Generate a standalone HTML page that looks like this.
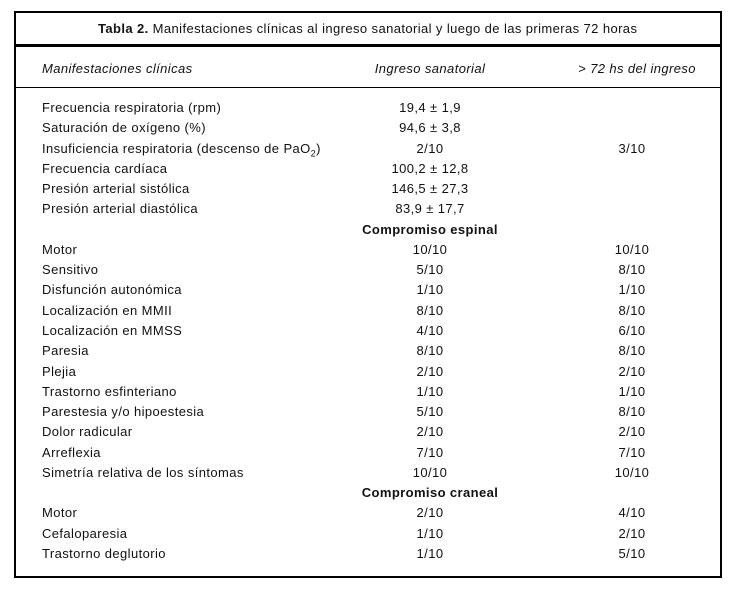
<!DOCTYPE html>
<html><head><meta charset="utf-8"><style>
body{margin:0;width:738px;height:590px;background:#fff;font-family:"Liberation Sans",Arial,sans-serif;font-size:13px;color:#111;position:relative;overflow:hidden;letter-spacing:0.4px}
.box{position:absolute;left:14px;top:11px;width:704px;height:563px;border:2px solid #000}
.l{position:absolute;left:15px;width:706px;background:#000}
.t{position:absolute;white-space:nowrap;line-height:16px}
.c{position:absolute;white-space:nowrap;line-height:16px;transform:translateX(-50%)}
</style></head><body>
<div class="box"></div>
<div class="l" style="top:44px;height:3px"></div>
<div class="l" style="top:87px;height:1px"></div>
<div class="t" style="left:98px;top:21px"><b>Tabla 2.</b> Manifestaciones clínicas al ingreso sanatorial y luego de las primeras 72 horas</div>
<div class="t" style="left:42px;top:61px;font-style:italic">Manifestaciones clínicas</div>
<div class="c" style="left:430px;top:61px;font-style:italic">Ingreso sanatorial</div>
<div class="c" style="left:637px;top:61px;font-style:italic">&gt; 72 hs del ingreso</div>
<div id="rows"></div>
<script>
var r=[["Frecuencia respiratoria (rpm)","19,4 ± 1,9",""],["Saturación de oxígeno (%)","94,6 ± 3,8",""],["Insuficiencia respiratoria (descenso de PaO<sub style='font-size:9px;line-height:0'>2</sub>)","2/10","3/10"],["Frecuencia cardíaca","100,2 ± 12,8",""],["Presión arterial sistólica","146,5 ± 27,3",""],["Presión arterial diastólica","83,9 ± 17,7",""],["#Compromiso espinal"],["Motor","10/10","10/10"],["Sensitivo","5/10","8/10"],["Disfunción autonómica","1/10","1/10"],["Localización en MMII","8/10","8/10"],["Localización en MMSS","4/10","6/10"],["Paresia","8/10","8/10"],["Plejia","2/10","2/10"],["Trastorno esfinteriano","1/10","1/10"],["Parestesia y/o hipoestesia","5/10","8/10"],["Dolor radicular","2/10","2/10"],["Arreflexia","7/10","7/10"],["Simetría relativa de los síntomas","10/10","10/10"],["#Compromiso craneal"],["Motor","2/10","4/10"],["Cefaloparesia","1/10","2/10"],["Trastorno deglutorio","1/10","5/10"]];
var h="";r.forEach(function(x,i){var y=100+i*20.27;
if(x[0][0]=="#"){h+='<div class="c" style="left:430px;top:'+y+'px;font-weight:bold">'+x[0].slice(1)+'</div>';}
else{h+='<div class="t" style="left:42px;top:'+y+'px">'+x[0]+'</div><div class="c" style="left:430px;top:'+y+'px">'+x[1]+'</div><div class="c" style="left:632px;top:'+y+'px">'+x[2]+'</div>';}});
document.getElementById("rows").innerHTML=h;
</script>
</body></html>
